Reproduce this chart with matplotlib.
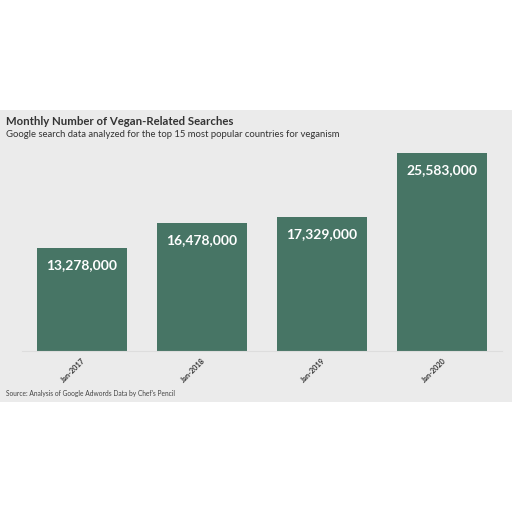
import matplotlib.pyplot as plt
from matplotlib.patches import Rectangle

categories = ["Jan-2017", "Jan-2018", "Jan-2019", "Jan-2020"]
searches = [13278000, 16478000, 17329000, 25583000]

plt.rcParams['font.family'] = ['Lato', 'DejaVu Sans']

fig = plt.figure(figsize=(5.12, 5.12), dpi=100)
fig.patch.set_facecolor("white")

# grey card behind the chart
fig.patches.append(Rectangle((0, 0.2148), 1, 0.5703, transform=fig.transFigure,
                             facecolor="#ebebeb", edgecolor="none", zorder=-5))

ax = fig.add_axes([0.043, 0.3145, 0.9375, 0.3926])
ax.set_facecolor("none")
ax.set_zorder(2)
x = range(len(categories))
bars = ax.bar(x, searches, width=0.75, color="#477565")
ax.set_xlim(-0.5, len(categories) - 0.5)
ax.set_ylim(0, 25583000 * 201 / 198)

for b, v in zip(bars, searches):
    ax.text(b.get_x() + b.get_width() / 2, v - 2200000, f"{v:,}",
            ha="center", va="center", color="white", fontsize=10, fontweight="bold")

for s in ["top", "right", "left"]:
    ax.spines[s].set_visible(False)
ax.spines["bottom"].set_color("#dddddd")
ax.set_yticks([])
ax.set_xticks(list(x))
ax.set_xticklabels(categories, rotation=45, ha="right", rotation_mode="anchor",
                   fontsize=5.3, fontweight="bold", color="#333333")
ax.tick_params(axis="x", length=0, pad=4)

fig.text(0.012, 0.762, "Monthly Number of Vegan-Related Searches", fontsize=8.2,
         fontweight="bold", color="#333333", va="center")
fig.text(0.012, 0.738, "Google search data analyzed for the top 15 most popular countries for veganism",
         fontsize=6.8, color="#333333", va="center")
fig.text(0.012, 0.232, "Source: Analysis of Google Adwords Data by Chef's Pencil",
         fontsize=4.8, color="#444444", va="center")

fig.savefig("out.png", dpi=100)
